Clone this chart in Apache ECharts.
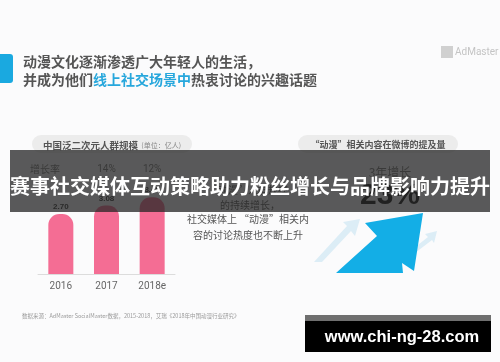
<!DOCTYPE html>
<html>
<head>
<meta charset="utf-8">
<script src="https://cdn.jsdelivr.net/npm/echarts@6/dist/echarts.min.js"></script>
<style>
html,body{margin:0;padding:0;background:#fbfbfc;}
#c{width:500px;height:362px;}
</style>
</head>
<body>
<div id="c"></div>
<script>
var categories = ['2016', '2017', '2018e'];
var populationValues = [2.70, 3.08, 3.45];
var growthRates = ['', '14%', '12%'];
var titleLine1 = '动漫文化逐渐渗透广大年轻人的生活，';
var titleLine2a = '并成为他们';
var titleLine2b = '线上社交场景中';
var titleLine2c = '热衷讨论的兴趣话题';
var leftPanelTitle = '中国泛二次元人群规模';
var leftPanelUnit = '(单位：亿人)';
var rightPanelTitle = '“动漫”相关内容在微博的提及量';
var growthLabel = '增长率';
var rightBigValue = '23%';
var rightBigCaption = '3年增长';
var rightTextLines = ['的持续增长，', '社交媒体上 “动漫”相关内', '容的讨论热度也不断上升'];
var bannerText = '赛事社交媒体互动策略助力粉丝增长与品牌影响力提升';
var watermark = 'www.chi-ng-28.com';
var sourceText = '数据来源：AdMaster SocialMaster数据，2015-2018，艾瑞《2018年中国动漫行业研究》';

var CJK = '"Noto Sans CJK SC", "Noto Sans", sans-serif';
var chart = echarts.init(document.getElementById('c'), null, {renderer: 'canvas'});

var option = {
  backgroundColor: '#fbfbfc',
  animation: false,
  grid: {left: 38, width: 137, top: 185, height: 89},
  xAxis: [{
    type: 'category',
    data: categories,
    position: 'bottom',
    axisLine: {lineStyle: {color: '#dcdcdc', width: 1}},
    axisTick: {show: false},
    axisLabel: {color: '#666', fontSize: 10, margin: 7, fontFamily: 'Roboto, sans-serif'}
  }, {
    type: 'category',
    data: growthRates,
    position: 'top',
    axisLine: {show: false},
    axisTick: {show: false},
    axisLabel: {color: '#777', fontSize: 10, margin: 11, fontFamily: 'Roboto, sans-serif'}
  }],
  yAxis: {type: 'value', min: 0, max: 4, show: false},
  series: [{
    type: 'bar',
    data: populationValues,
    barWidth: 25,
    itemStyle: {color: '#f46d94', borderRadius: [11, 11, 0, 0]},
    label: {
      show: true, position: 'top', distance: 3,
      color: '#333', fontSize: 8, fontWeight: 'bold',
      formatter: function (p) { return p.value.toFixed(2); }
    }
  }],
  graphic: [
    {type: 'rect', z: 10, shape: {x: -6, y: 54, width: 19, height: 29, r: 3}, style: {fill: '#1aa9e0'}},
    {type: 'text', z: 10, x: 23, y: 62, style: {text: titleLine1, fill: '#555', font: 'bold 14px ' + CJK, textVerticalAlign: 'middle'}},
    {type: 'text', z: 10, x: 23, y: 80, style: {
      text: '{a|' + titleLine2a + '}{b|' + titleLine2b + '}{a|' + titleLine2c + '}',
      textVerticalAlign: 'middle',
      rich: {
        a: {fill: '#555', font: 'bold 14px ' + CJK},
        b: {fill: '#27a7dc', font: 'bold 14px ' + CJK}
      }
    }},
    {type: 'rect', z: 10, shape: {x: 441, y: 46, width: 12, height: 12}, style: {fill: '#d0d0d0'}},
    {type: 'text', z: 10, x: 455, y: 52, style: {text: 'AdMaster', fill: '#c4c4c4', font: '10px Roboto, sans-serif', textVerticalAlign: 'middle'}},
    {type: 'rect', z: 1, shape: {x: 32, y: 135, width: 160, height: 18, r: 9}, style: {fill: '#ececec'}},
    {type: 'text', z: 10, x: 43, y: 145, style: {
      text: '{a|' + leftPanelTitle + '} {b|' + leftPanelUnit + '}',
      textVerticalAlign: 'middle',
      rich: {a: {fill: '#555', font: 'bold 9.5px ' + CJK}, b: {fill: '#888', font: '7px ' + CJK}}
    }},
    {type: 'rect', z: 1, shape: {x: 298, y: 135, width: 160, height: 18, r: 9}, style: {fill: '#ececec'}},
    {type: 'text', z: 10, x: 378, y: 145, style: {text: rightPanelTitle, fill: '#555', font: 'bold 9px ' + CJK, textAlign: 'center', textVerticalAlign: 'middle'}},
    {type: 'text', z: 10, x: 45, y: 169, style: {text: growthLabel, fill: '#777', font: '10px ' + CJK, textAlign: 'center', textVerticalAlign: 'middle'}},
    {type: 'text', z: 10, x: 390, y: 172, style: {text: rightBigCaption, fill: '#777', font: '12px ' + CJK, textAlign: 'center', textVerticalAlign: 'middle'}},
    {type: 'text', z: 10, x: 390, y: 196, style: {text: rightBigValue, fill: '#111', font: 'bold 30px "Liberation Sans", sans-serif', textAlign: 'center', textVerticalAlign: 'middle'}},
    {type: 'text', z: 10, x: 248, y: 190, style: {text: '“动漫”人群规模', fill: '#555', font: '10px ' + CJK, textAlign: 'center', textVerticalAlign: 'middle'}},
    {type: 'text', z: 10, x: 250, y: 205, style: {text: rightTextLines[0], fill: '#555', font: '10px ' + CJK, textAlign: 'center', textVerticalAlign: 'middle'}},
    {type: 'text', z: 10, x: 248, y: 219, style: {text: rightTextLines[1], fill: '#555', font: '10px ' + CJK, textAlign: 'center', textVerticalAlign: 'middle'}},
    {type: 'text', z: 10, x: 248, y: 235, style: {text: rightTextLines[2], fill: '#555', font: '10px ' + CJK, textAlign: 'center', textVerticalAlign: 'middle'}},
    {type: 'polygon', z: 5, shape: {points: [[360, 219], [343, 222], [347, 226], [314, 262], [322, 262], [351, 231], [355, 236]]}, style: {fill: '#dcedf6'}},
    {type: 'polygon', z: 5, shape: {points: [[437, 231], [425, 234], [428, 237], [404, 256], [411, 256], [432, 240], [434, 243]]}, style: {fill: '#dcedf6'}},
    {type: 'polygon', z: 6, shape: {points: [[423, 213], [365, 223], [377, 236], [336, 273], [403, 273], [402, 263], [414, 271]]}, style: {fill: '#13aee6'}},
    {type: 'text', z: 10, x: 22, y: 316, style: {text: sourceText, fill: '#9a9a9a', font: '5.5px ' + CJK, textVerticalAlign: 'middle'}},
    {type: 'rect', z: 100, shape: {x: 10, y: 150, width: 480, height: 62}, style: {fill: 'rgba(38,38,38,0.76)'}},
    {type: 'text', z: 101, x: 250, y: 186, style: {text: bannerText, fill: '#ffffff', font: 'bold 20px ' + CJK, textAlign: 'center', textVerticalAlign: 'middle'}},
    {type: 'rect', z: 100, shape: {x: 305, y: 315, width: 186, height: 6}, style: {fill: '#6f6f6f'}},
    {type: 'rect', z: 100, shape: {x: 305, y: 321, width: 186, height: 31}, style: {fill: '#000000'}},
    {type: 'text', z: 101, x: 402, y: 337, style: {text: watermark, fill: '#ffffff', font: 'bold 16.5px "Liberation Sans", sans-serif', textAlign: 'center', textVerticalAlign: 'middle'}}
  ]
};
chart.setOption(option);
</script>
</body>
</html>
